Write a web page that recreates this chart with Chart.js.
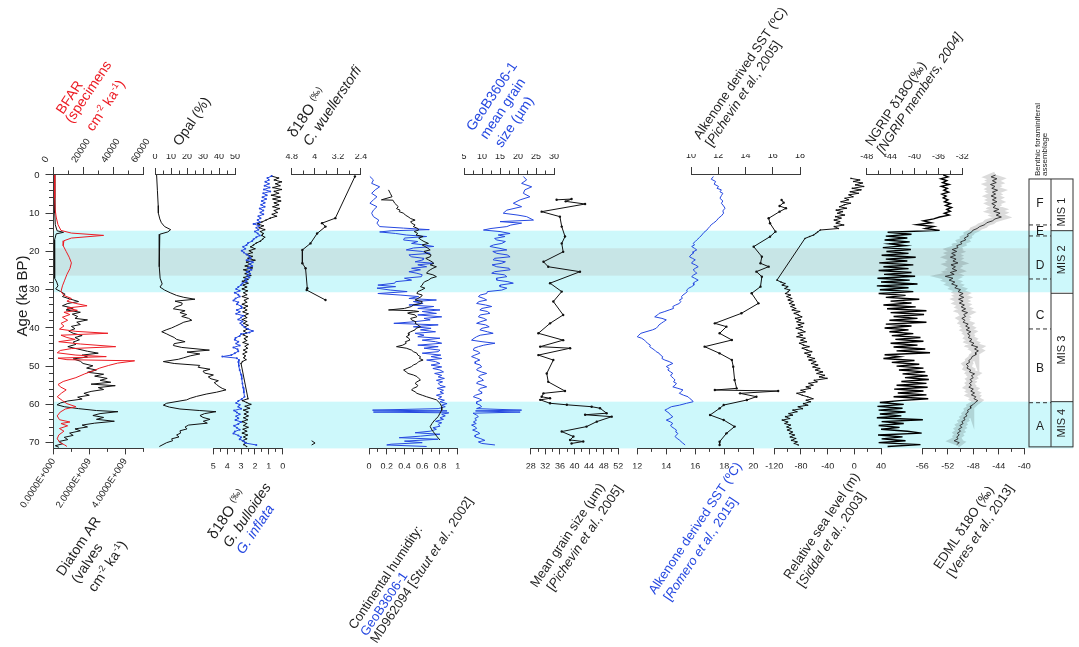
<!DOCTYPE html>
<html>
<head>
<meta charset="utf-8">
<script src="https://cdn.jsdelivr.net/npm/chart.js@4.4.1/dist/chart.umd.min.js"></script>
<style>
  html, body { margin: 0; padding: 0; background: #fff; }
  #stage { position: relative; width: 1079px; height: 647px; overflow: hidden; }
  #stage canvas { position: absolute; left: 0; top: 0; }
</style>
</head>
<body>
<div id="stage"></div>
<script>
// ---- data: [age ka BP, value] ----
const bfar = [[0,800],[3,700],[6,900],[9,1100],[11,1800],[13,3000],[14.5,5000],[15.2,12000],[15.8,33600],[16.5,12000],[17.2,7000],[18.5,6500],[20,8500],[21.5,10500],[23,12000],[24.5,11000],[26,9000],[27.5,7500],[29,6000],[30.5,5000],[31.5,7000],[32.3,12000],[33,9000],[33.6,15000],[34.2,22500],[34.8,9000],[35.4,16000],[35.9,7000],[36.5,11000],[37.2,6000],[38,9500],[38.8,5000],[39.5,7000],[40.3,4000],[40.9,15000],[41.4,36500],[41.9,5000],[42.5,9000],[43,14500],[43.6,3500],[44.2,18000],[44.9,41700],[45.4,12000],[45.9,4500],[46.5,2500],[47.1,15000],[47.5,35400],[47.9,3000],[48.3,9000],[48.6,54400],[49.2,43000],[49.8,37000],[50.5,31000],[51.3,26000],[52,21000],[53,15000],[54,6500],[54.8,3000],[55.5,5000],[56.2,8500],[57,5500],[58,2500],[59,6000],[59.8,9000],[60.6,15000],[61.2,8000],[62,4500],[63,2500],[64,4000],[64.6,11000],[65,5000],[65.6,9500],[66.3,4000],[67,7000],[68,3500],[69,2500],[70,4500],[70.6,7500],[71,9000]];
const diatomAR = [[0,6e7],[5,6e7],[10,8e7],[13,1e8],[14.6,2e8],[15,5.6e8],[15.4,1.5e8],[17,6e7],[20,5e7],[24,6e7],[27,8e7],[28,1.8e8],[29,2.5e8],[29.8,1.2e8],[30.5,4e8],[31.2,6.5e8],[31.8,5e8],[32.4,9e8],[33.1,1.4e9],[33.6,8e8],[34.2,5e8],[34.8,1.1e9],[35.3,7e8],[35.9,1.5e9],[36.4,1.05e9],[37,1.35e9],[37.5,1.2e9],[37.9,1.9e9],[38.5,1.3e9],[39.1,1.5e9],[39.6,1.0e9],[40.2,1.2e9],[40.8,8.5e8],[41.4,1.1e9],[42,1.6e9],[42.5,1.2e9],[43.1,1.45e9],[43.7,1.1e9],[44.3,1.25e9],[44.9,8e8],[45.5,1.35e9],[46.1,1.9e9],[46.6,2.5e9],[47.1,1.6e9],[47.6,1.9e9],[48.1,1.1e9],[48.7,1.5e9],[49.3,1.65e9],[49.9,2.2e9],[50.5,1.85e9],[51,2.4e9],[51.6,1.9e9],[52.1,2.8e9],[52.6,2.3e9],[53.2,3.0e9],[53.7,2.6e9],[54.2,3.2e9],[54.7,2.1e9],[55.1,3.45e9],[55.6,2.5e9],[56.1,2.8e9],[56.6,2.1e9],[57.1,1.7e9],[57.6,2.0e9],[58.1,1.35e9],[58.6,1.6e9],[59.1,8e8],[59.6,4e8],[60.1,2e8],[60.6,6e8],[61.1,1.4e9],[61.6,2.4e9],[61.9,3.6e9],[62.4,2.6e9],[62.9,2.2e9],[63.4,2.8e9],[63.9,2.4e9],[64.4,3.4e9],[64.9,2.3e9],[65.4,1.6e9],[65.9,1.9e9],[66.4,1.2e9],[66.9,1.5e9],[67.5,9e8],[68.1,1.1e9],[68.6,6e8],[69.2,8e8],[69.7,3e8],[70.3,5e8],[70.8,1e8],[71.2,3e8]];
const diatomTickValues = [0, 2e9, 4e9];
const opal = [[0,1],[4,1.5],[8,2],[10,2.1],[11.5,3],[12.5,4],[13.5,6],[14.3,9.8],[14.9,8],[15.5,3],[17,2.7],[20,2.5],[24,2.8],[27,3.2],[28.5,4.5],[29.3,3.1],[30.1,6],[30.8,9.5],[31.5,13.5],[32,18],[32.5,25],[33,12.5],[33.5,17],[34,16.7],[34.5,13],[35,11.5],[35.5,18.8],[36,15.6],[36.5,19.8],[37,16.7],[37.5,21],[38,23],[38.5,18],[39,15.6],[39.5,13],[40,10.4],[40.5,7],[41,4.2],[41.5,7],[42,9.4],[42.5,12],[43,13.5],[43.6,18.8],[44.1,12],[44.6,11.5],[45.1,16.7],[45.8,34],[46.3,20],[46.8,28],[47.3,22],[47.8,18],[48.2,14.6],[48.8,5.2],[49.3,12],[49.8,28],[50.3,27],[50.8,34.4],[51.3,30],[51.8,31],[52.3,36.5],[52.8,33.3],[53.3,35],[53.8,39.6],[54.3,37],[54.8,38.5],[55.3,40],[55.8,42],[56.2,44.4],[56.8,38.5],[57.3,32],[57.9,26],[58.4,22],[58.8,19.8],[59.7,7.3],[60.2,5.2],[60.7,9],[61.2,15.6],[61.6,28],[61.9,38.1],[62.4,31],[62.9,28.1],[63.4,30],[63.9,34.4],[64.4,30.2],[64.9,32.7],[65.4,21],[65.9,18.8],[66.4,20],[66.9,15.6],[67.5,16],[68,13.5],[68.5,15],[69,10.4],[69.5,11],[70,7.3],[70.5,5],[71,2.7]];
const d18oBulloides = [[0.3,0.8],[0.8,0.3],[1.3,0.6],[1.8,0.1],[2.3,0.5],[2.8,0.2],[3.3,0.7],[3.8,0.1],[4.3,0.6],[4.8,0.3],[5.3,0.8],[5.8,0.2],[6.3,0.7],[6.8,0.15],[7.3,0.6],[7.8,0.3],[8.3,0.7],[8.8,0.25],[9.3,0.6],[9.8,0.4],[10.3,0.75],[10.8,0.45],[11.3,0.9],[11.8,1.2],[12.3,1.5],[12.8,1.8],[13.3,1.4],[13.8,1.7],[14.3,1.3],[14.8,1.6],[15.3,1.4],[15.8,1.5],[16.3,1.3],[16.8,1.45],[17.3,1.6],[17.8,1.9],[18.3,2.1],[18.8,2.3],[19.3,2.0],[19.8,2.4],[20.3,2.2],[20.8,2.6],[21.3,2.2],[21.8,2.5],[22.3,2.0],[22.8,2.6],[23.3,2.3],[23.8,2.7],[24.3,2.2],[24.8,2.8],[25.3,2.4],[25.8,2.7],[26.3,2.3],[26.8,2.8],[27.3,2.5],[27.8,2.9],[28.3,2.5],[28.8,2.85],[29.3,2.6],[29.8,2.9],[30.3,2.55],[30.8,2.8],[31.3,2.6],[31.8,2.9],[32.3,2.5],[32.8,2.75],[33.3,2.6],[33.8,2.9],[34.3,2.55],[34.8,2.8],[35.3,2.6],[35.8,2.85],[36.3,2.5],[36.8,2.75],[37.3,2.6],[37.8,2.9],[38.3,2.6],[38.8,2.8],[39.3,2.5],[39.8,2.75],[40.3,2.55],[40.8,2.8],[41.3,2.6],[41.8,2.85],[42.3,2.55],[42.8,2.75],[43.3,2.6],[43.8,2.85],[44.3,2.5],[44.8,2.7],[45.3,2.55],[45.8,2.8],[46.3,2.6],[46.8,2.85],[47.3,2.7],[47.8,2.8],[48.3,2.65],[48.8,2.9],[49.3,3.0],[58.5,2.5],[59,2.9],[59.5,2.6],[60,2.3],[60.5,2.7],[61,2.4],[61.5,2.8],[62,2.5],[62.5,2.75],[63,2.5],[63.5,2.8],[64,2.55],[64.5,2.9],[65,2.6],[65.5,2.8],[66,2.5],[66.5,2.85],[67,2.6],[67.5,2.9],[68,2.55],[68.5,2.8],[69,2.6],[69.5,2.9],[70,2.65],[70.5,2.8],[71,2.6]];
const d18oInflata = [[0.3,0.8],[0.8,1.1],[1.3,1.0],[1.8,1.25],[2.3,1.0],[2.8,1.3],[3.3,0.95],[3.8,1.35],[4.3,0.9],[4.8,1.4],[5.3,1.15],[5.8,1.45],[6.3,1.2],[6.8,1.5],[7.3,1.3],[7.8,1.55],[8.3,1.3],[8.8,1.65],[9.3,1.4],[9.8,1.6],[10.3,1.4],[10.8,1.75],[11.3,1.6],[11.8,1.8],[12.3,1.65],[12.8,2.1],[13.3,1.7],[13.8,1.9],[14.3,1.75],[14.8,2.0],[15.3,1.8],[15.8,1.65],[16.3,1.9],[16.8,2.1],[17.3,2.2],[17.8,2.5],[18.3,2.6],[18.8,2.85],[19.3,2.7],[19.8,2.95],[20.3,2.8],[20.8,2.6],[21.3,2.4],[21.8,2.3],[22.3,2.6],[22.8,2.15],[23.3,2.4],[23.8,2.2],[24.3,2.5],[24.8,2.25],[25.3,2.6],[25.8,2.35],[26.3,2.55],[26.8,2.4],[27.3,2.7],[27.8,2.6],[28.3,2.9],[28.8,3.0],[29.3,3.2],[29.8,3.35],[30.3,3.1],[30.8,3.45],[31.3,3.2],[31.8,3.1],[32.3,3.4],[32.8,3.55],[33.3,3.2],[33.8,3.3],[34.3,3.0],[34.8,2.95],[35.3,3.3],[35.8,3.1],[36.3,3.35],[36.8,2.85],[37.3,3.0],[37.8,3.2],[38.3,2.9],[38.8,3.05],[39.3,2.9],[39.8,2.75],[40.3,2.5],[40.8,2.15],[41.2,2.4],[41.6,3.0],[42.1,3.1],[42.6,3.4],[43.1,3.45],[43.6,3.2],[44.1,3.35],[44.6,3.1],[45.1,3.55],[45.6,3.25],[46.1,3.2],[46.6,3.45],[47.1,3.7],[47.5,4.35],[47.9,3.3],[48.4,3.15],[48.9,3.2],[49.9,3.15],[51,3.1],[52.2,3.0],[53.3,2.95],[54.5,2.9],[55.6,2.85],[56.8,2.8],[58,2.75],[58.6,2.95],[59.1,3.2],[59.6,3.35],[60.1,3.1],[60.6,3.2],[61.1,3.0],[61.6,3.5],[62.1,3.3],[62.6,3.1],[63.1,3.35],[63.6,3.2],[64.1,3.4],[64.6,3.0],[65.1,3.2],[65.6,3.5],[66.1,3.3],[66.6,3.1],[67.1,3.45],[67.6,3.55],[68.1,3.2],[68.6,3.0],[69.1,3.1],[69.6,2.8],[70.1,2.7],[70.6,1.9]];
const d18oWuell = [[0.4,2.61],[11.3,3.29],[12.6,3.75],[13.5,3.63],[15.3,3.92],[17.9,4.15],[19.6,4.43],[23.1,4.43],[24.4,4.32],[29.6,4.26],[30.1,4.28],[32.7,3.63]];
const d18oWuellLate = [[69.5,4.11],[70.1,3.99],[70.6,4.11]];
const humidityGeoB = [[0.4,0.01],[1.3,0.05],[2.2,0.03],[3.1,0.12],[3.9,0.07],[4.8,0.03],[5.7,0.09],[6.5,0.05],[7.4,0.01],[8.3,0.09],[9.2,0.05],[10.0,0.03],[10.9,0.05],[11.8,0.11],[12.6,0.09],[13.5,0.12],[13.9,0.39],[14.3,0.68],[14.6,0.25],[14.9,0.12],[15.3,0.3],[15.7,0.42],[16.1,0.65],[16.5,0.4],[17.0,0.39],[17.4,0.55],[17.9,0.48],[18.3,0.62],[18.7,0.73],[19.1,0.5],[19.6,0.42],[20.0,0.6],[20.5,0.69],[20.9,0.45],[21.4,0.48],[21.8,0.62],[22.2,0.61],[22.7,0.52],[23.1,0.73],[23.5,0.55],[24.0,0.65],[24.4,0.48],[24.8,0.58],[25.3,0.45],[25.7,0.54],[26.1,0.6],[26.6,0.59],[27.0,0.4],[27.5,0.48],[27.9,0.3],[28.3,0.29],[28.8,0.1],[29.2,0.3],[29.6,0.09],[30.1,0.24],[30.5,0.43],[31.0,0.1],[31.4,0.35],[31.8,0.56],[32.3,0.45],[32.7,0.76],[33.1,0.5],[33.6,0.61],[34.0,0.45],[34.4,0.73],[34.9,0.55],[35.3,0.8],[35.7,0.6],[36.2,0.76],[36.6,0.55],[37.1,0.82],[37.5,0.62],[37.9,0.69],[38.4,0.5],[38.8,0.28],[39.2,0.78],[39.7,0.5],[40.1,0.7],[40.5,0.58],[41.0,0.75],[41.4,0.52],[41.9,0.62],[42.3,0.55],[42.7,0.8],[43.2,0.6],[43.6,0.75],[44.0,0.82],[44.5,0.55],[44.9,0.78],[45.3,0.62],[45.8,0.8],[46.2,0.78],[46.6,0.6],[47.1,0.81],[47.5,0.7],[48.0,0.82],[48.4,0.65],[48.8,0.75],[49.3,0.8],[49.7,0.7],[50.2,0.82],[50.6,0.72],[51.0,0.8],[51.5,0.84],[51.9,0.74],[52.4,0.82],[52.8,0.78],[53.2,0.85],[53.7,0.76],[54.1,0.83],[54.5,0.78],[55.0,0.8],[55.4,0.86],[55.8,0.77],[56.3,0.84],[56.7,0.8],[57.1,0.84],[57.6,0.76],[58.0,0.82],[58.5,0.78],[58.9,0.85],[59.3,0.8],[59.8,0.88],[60.2,0.82],[60.6,0.86],[61.1,0.78],[61.5,0.04],[61.7,0.88],[62.0,0.05],[62.2,0.9],[62.6,0.82],[63.0,0.86],[63.5,0.8],[63.9,0.84],[64.4,0.75],[64.8,0.82],[65.2,0.78],[65.7,0.8],[66.1,0.72],[66.5,0.76],[67.0,0.69],[67.4,0.52],[67.8,0.8],[68.3,0.58],[68.7,0.34],[69.1,0.78],[69.6,0.4],[70.0,0.6],[70.4,0.25],[70.6,0.2],[71.0,0.65]];
const humidityMD = [[3.9,0.22],[4.8,0.24],[5.7,0.26],[6.5,0.14],[6.6,0.27],[7.4,0.29],[8.3,0.33],[8.8,0.31],[9.2,0.35],[9.6,0.34],[10.0,0.39],[10.5,0.41],[10.9,0.44],[11.4,0.47],[11.8,0.52],[12.2,0.47],[12.6,0.48],[13.1,0.52],[13.5,0.5],[14.0,0.55],[14.4,0.56],[14.8,0.51],[15.3,0.55],[15.7,0.53],[16.1,0.61],[16.5,0.56],[17.0,0.59],[17.4,0.62],[17.9,0.67],[18.3,0.6],[18.7,0.63],[19.1,0.66],[19.6,0.69],[20.0,0.62],[20.5,0.65],[20.9,0.7],[21.4,0.69],[21.8,0.64],[22.2,0.67],[22.7,0.71],[23.1,0.73],[23.5,0.69],[24.0,0.76],[24.4,0.72],[24.8,0.69],[25.3,0.66],[25.7,0.65],[26.1,0.72],[26.6,0.76],[27.0,0.7],[27.5,0.67],[27.9,0.63],[28.3,0.61],[28.8,0.6],[29.2,0.58],[29.6,0.63],[30.1,0.59],[30.5,0.55],[31.0,0.54],[31.4,0.6],[31.8,0.59],[32.3,0.55],[32.7,0.52],[33.1,0.6],[33.6,0.59],[34.0,0.5],[34.4,0.48],[34.9,0.4],[35.3,0.22],[35.5,0.5],[35.7,0.56],[36.0,0.45],[36.2,0.44],[36.6,0.52],[37.1,0.54],[37.5,0.47],[37.9,0.48],[38.4,0.53],[38.8,0.52],[39.2,0.55],[39.7,0.58],[40.1,0.53],[40.5,0.52],[41.0,0.47],[41.4,0.44],[41.9,0.45],[42.3,0.42],[42.7,0.45],[43.2,0.46],[43.6,0.41],[44.0,0.42],[44.5,0.38],[44.9,0.31],[45.3,0.42],[45.8,0.48],[46.2,0.5],[46.6,0.54],[47.1,0.55],[47.5,0.58],[48.0,0.57],[48.4,0.61],[48.8,0.56],[49.3,0.54],[49.7,0.5],[50.1,0.48],[50.6,0.43],[51.0,0.39],[51.5,0.42],[51.9,0.44],[52.3,0.5],[52.7,0.54],[53.2,0.56],[53.6,0.58],[54.1,0.54],[54.5,0.52],[55.0,0.55],[55.4,0.54],[55.8,0.5],[56.2,0.48],[56.7,0.52],[57.1,0.54],[57.6,0.6],[58.0,0.65],[58.8,0.76],[59.7,0.8],[60.6,0.82],[61.5,0.82],[62.3,0.8],[63.2,0.78],[64.1,0.74],[65.0,0.71],[65.8,0.69],[66.7,0.71],[67.6,0.74],[68.5,0.77],[69.3,0.8]];
const grainGeoB = [[0.4,21.5],[1.3,22.4],[2.2,21.0],[3.1,23.8],[3.9,21.9],[4.8,21.5],[5.7,23.3],[6.5,20.6],[7.4,18.7],[8.3,21.0],[9.2,16.9],[10.0,15.9],[10.5,20],[10.9,22.4],[11.8,24.3],[12.2,15.0],[12.6,21.0],[13.1,18],[13.5,16.9],[14.0,12.5],[14.4,10.4],[14.8,15.0],[15.3,17.8],[15.7,14.5],[16.1,16.4],[16.6,13.5],[17.0,14.1],[17.4,16.5],[17.9,15.5],[18.3,13.2],[18.7,12.2],[19.2,15],[19.6,16.9],[20.0,13],[20.5,14.1],[20.9,17],[21.4,17.8],[21.8,13.5],[22.2,13.1],[22.7,16.5],[23.1,15.5],[23.5,12.8],[24.0,14.1],[24.4,17.5],[24.8,17.8],[25.3,13.5],[25.7,12.7],[26.1,16.2],[26.6,16.9],[27.0,14],[27.5,14.1],[27.9,17.2],[28.3,18.7],[28.8,15],[29.2,15.0],[29.6,16.9],[30.1,15.5],[30.5,11.5],[31.0,11.3],[31.4,9.5],[31.8,9.0],[32.3,10.5],[32.7,11.3],[33.1,9.2],[33.6,8.5],[34.0,11],[34.4,12.7],[34.9,10],[35.3,9.4],[35.7,11.5],[36.2,12.2],[36.6,9.5],[37.1,9.0],[37.5,10.5],[37.9,11.3],[38.4,9.5],[38.8,8.5],[39.2,11],[39.7,12.0],[40.1,10],[40.5,9.4],[41.0,11.5],[41.4,13.1],[41.9,9.5],[42.3,8.5],[42.7,7.8],[43.2,7.1],[43.6,10],[44.0,13.6],[44.5,10.5],[44.9,9.0],[45.3,7.8],[45.8,7.6],[46.2,9],[46.6,9.4],[47.1,8],[47.5,7.1],[48.0,8.5],[48.4,9.4],[48.8,8.2],[49.3,8.1],[49.7,9.5],[50.2,9.9],[50.6,8.8],[51.0,8.5],[51.5,9.8],[51.9,11.3],[52.4,9.5],[52.8,9.0],[53.2,9.8],[53.7,10.4],[54.1,8.8],[54.5,8.5],[55.0,10.2],[55.4,11.3],[55.8,9.5],[56.3,9.0],[56.7,9.8],[57.1,9.9],[57.6,8.2],[58.0,7.6],[58.5,9.2],[58.9,9.9],[59.3,8.6],[59.8,8.5],[60.2,9.5],[60.6,9.9],[61.1,8.5],[61.5,21.0],[61.7,8.2],[62.0,20.6],[62.3,7.5],[62.8,8.5],[63.2,9.0],[63.7,8.0],[64.1,8.5],[64.6,7.6],[65.0,8.4],[65.4,7.1],[65.9,8.2],[66.3,8.5],[66.7,7.4],[67.2,8.8],[67.6,9.4],[68.0,8.2],[68.5,8.1],[68.9,9.5],[69.4,10.8],[69.8,9.0],[70.2,9.9],[70.6,13.6]];
const grainPichevin = [[6.5,35.1],[6.3,39.2],[6.9,37.6],[7.6,42.9],[9.6,31.0],[10.9,36.0],[13.5,36.5],[16.1,37.4],[17.9,36.5],[20.1,36.9],[22.7,31.5],[24.0,32.8],[25.3,41.5],[28.3,33.3],[30.5,36.5],[33.1,34.2],[36.6,36.9],[38.8,33.3],[41.4,30.1],[43.2,36.9],[44.9,30.6],[45.3,38.8],[47.1,30.1],[48.4,34.2],[51.9,32.4],[54.1,32.8],[56.5,37.4],[57.1,31.5],[58.0,31.0],[58.4,33.3],[58.8,30.6],[59.7,33.3],[60.1,37.9],[60.6,44.7],[61.0,47.0],[62.3,48.8],[62.7,42.9],[63.2,50.2],[64.5,46.1],[65.8,43.3],[67.1,36.5],[68.4,39.7],[69.3,38.8],[69.7,42.4],[70.2,39.2]];
const sstRomero = [[0.4,17.25],[1.1,17.1],[1.7,17.4],[2.4,17.3],[3.0,17.6],[3.5,17.5],[3.9,17.8],[4.4,17.7],[4.8,17.9],[5.4,17.8],[6.1,17.7],[6.8,17.9],[7.4,17.8],[8.1,17.95],[8.7,18.05],[9.4,17.9],[10.0,17.95],[10.7,17.8],[11.3,17.6],[12.0,17.45],[12.6,17.25],[13.0,17.1],[13.5,17.0],[13.9,16.9],[14.4,16.8],[15.0,16.6],[15.7,16.45],[16.3,16.3],[17.0,16.1],[17.4,16.0],[17.9,15.85],[18.3,15.95],[18.7,15.75],[19.2,15.95],[19.6,16.1],[20.0,15.9],[20.5,15.85],[20.9,15.7],[21.4,15.6],[21.8,15.8],[22.2,16.0],[22.7,15.8],[23.1,15.75],[23.5,16.0],[24.0,16.2],[24.4,16.0],[24.8,15.85],[25.3,16.0],[25.7,16.1],[26.1,15.9],[26.6,15.75],[27.0,15.95],[27.5,16.2],[27.9,16.0],[28.3,15.85],[28.8,15.9],[29.2,15.75],[29.6,15.55],[30.1,15.4],[30.5,15.45],[31.0,15.3],[31.4,15.15],[31.8,15.05],[32.3,15.1],[32.7,14.9],[33.1,15.0],[33.6,14.9],[34.0,14.65],[34.4,14.45],[34.9,14.5],[35.3,14.2],[35.7,13.9],[36.2,13.5],[36.6,13.4],[37.1,13.2],[37.5,13.7],[37.9,14.0],[38.4,13.8],[38.8,13.65],[39.2,13.5],[39.7,13.4],[40.1,13.3],[40.5,13.05],[41.0,12.6],[41.4,12.25],[41.9,12.1],[42.3,12.0],[42.7,12.3],[43.2,12.5],[43.6,12.6],[44.0,12.7],[44.5,12.9],[44.9,12.85],[45.3,13.0],[45.8,13.2],[46.2,13.3],[46.6,13.5],[47.1,13.6],[47.5,13.75],[48.0,13.7],[48.4,13.9],[48.8,14.2],[49.3,14.45],[49.7,14.2],[50.1,14.0],[50.6,14.2],[51.0,14.1],[51.5,14.3],[51.9,14.45],[52.3,14.3],[52.7,14.35],[53.2,14.5],[53.6,14.6],[54.1,14.5],[54.5,14.7],[55.0,14.6],[55.4,14.45],[55.8,14.8],[56.2,15.15],[56.7,15.0],[57.1,14.9],[57.6,15.2],[58.0,15.5],[58.4,15.6],[58.8,15.75],[59.3,15.85],[59.7,15.4],[60.2,14.9],[60.6,14.35],[61.1,14.1],[61.5,13.9],[61.9,14.05],[62.3,14.2],[62.8,14.3],[63.2,14.45],[63.7,14.25],[64.1,14.0],[64.6,14.3],[65.0,14.45],[65.4,14.3],[65.8,14.35],[66.3,14.55],[66.7,14.7],[67.2,14.65],[67.6,14.8],[68.0,14.7],[68.4,14.6],[68.9,14.75],[69.3,14.9],[70.0,15.1],[70.6,15.3]];
const sstPichevin = [[6.54,16.65],[7.24,16.8],[8.11,16.5],[8.72,16.97],[9.59,16.5],[11.33,15.7],[12.64,15.8],[14.82,16.2],[16.13,15.8],[18.74,14.6],[21.36,15.2],[23.1,15.1],[23.98,15.7],[25.28,14.8],[26.59,15.2],[29.21,15.1],[30.95,14.45],[33.57,14.95],[36.18,13.7],[38.8,11.75],[39.67,12.6],[41.41,12.1],[43.16,13.0],[44.9,11.0],[46.64,12.1],[48.39,13.0],[50.13,13.1],[53.6,13.2],[55.8,13.35],[56.23,11.75],[56.5,16.4],[57.1,13.6],[57.98,14.8],[58.85,14.1],[60.16,12.4],[61.03,12.1],[62.77,11.4],[64.08,12.4],[65.8,13.2],[67.57,12.6],[69.75,12.1],[70.6,12.1]];
const seaLevel = [[0.9,-5],[1.3,8],[1.7,-1],[2.1,12],[2.6,2],[3.0,14],[3.5,-3],[3.9,10],[4.4,-6],[4.8,6],[5.2,-8],[5.7,-2],[6.1,-14],[6.5,-9],[7.0,-20],[7.4,-6],[7.8,-15],[8.3,-22],[8.7,-12],[9.2,-27],[9.6,-18],[10.0,-25],[10.5,-15],[10.9,-28],[11.3,-20],[11.8,-30],[12.2,-22],[12.6,-27],[13.1,-16],[13.5,-30],[14.0,-24],[14.4,-51],[14.9,-55],[15.3,-58],[15.7,-61],[16.1,-67],[16.6,-74],[27.5,-116],[28.0,-110],[28.4,-104],[28.8,-108],[29.2,-100],[29.7,-104],[30.1,-97],[30.5,-99],[31.0,-103],[31.4,-96],[31.8,-101],[32.3,-94],[32.7,-99],[33.1,-92],[33.6,-97],[34.0,-90],[34.4,-95],[34.9,-88],[35.3,-93],[35.7,-82],[36.2,-90],[36.6,-84],[37.1,-79],[37.5,-88],[37.9,-81],[38.4,-86],[38.8,-76],[39.2,-84],[39.7,-78],[40.1,-87],[40.5,-80],[41.0,-74],[41.4,-84],[41.9,-78],[42.3,-86],[42.7,-74],[43.2,-80],[43.6,-72],[44.0,-82],[44.5,-76],[44.9,-68],[45.3,-78],[45.8,-71],[46.2,-64],[46.6,-74],[47.1,-66],[47.5,-70],[48.0,-60],[48.4,-68],[48.8,-58],[49.3,-64],[49.7,-55],[50.2,-62],[50.6,-52],[51.0,-58],[51.5,-48],[51.9,-56],[52.4,-45],[52.8,-52],[53.2,-41],[53.7,-60],[54.1,-56],[54.5,-68],[55.0,-62],[55.4,-72],[55.8,-66],[56.3,-80],[56.7,-74],[57.1,-86],[57.6,-78],[58.0,-70],[58.5,-62],[58.9,-72],[59.3,-66],[59.8,-76],[60.2,-70],[60.6,-84],[61.1,-78],[61.5,-92],[61.9,-86],[62.4,-98],[62.8,-93],[63.2,-103],[63.7,-97],[64.1,-108],[64.6,-100],[65.0,-104],[65.4,-96],[65.9,-101],[66.3,-95],[66.7,-100],[67.2,-93],[67.6,-97],[68.0,-90],[68.5,-96],[68.9,-88],[69.4,-94],[69.8,-86],[70.2,-90],[70.6,-84]];
const ngrip = [[0,-35.2],[0.5,-34.4],[1,-35.6],[1.5,-34.6],[2,-35.3],[2.5,-34.2],[3,-35.5],[3.5,-34.5],[4,-35.1],[4.5,-34.3],[5,-35.4],[5.5,-34.7],[6,-35.2],[6.5,-34.4],[7,-35.0],[7.5,-34.0],[8,-34.8],[8.5,-33.8],[9,-34.6],[9.5,-34.0],[10,-35.0],[10.5,-34.2],[11,-35.8],[11.5,-36.8],[12,-38.5],[12.5,-37.2],[13,-39.6],[13.5,-36.8],[14,-38.2],[14.5,-35.8],[15,-44.5],[15.5,-40.5],[16,-44.8],[16.5,-41.2],[17,-45.0],[17.5,-40.8],[18,-44.2],[18.5,-41.5],[19,-45.3],[19.5,-40.6],[20,-44.7],[20.5,-41.0],[21,-45.5],[21.5,-39.8],[22,-44.8],[22.5,-41.2],[23,-45.9],[23.5,-40.2],[24,-45.2],[24.5,-41.0],[25,-46.0],[25.5,-40.5],[26,-45.1],[26.5,-39.9],[27,-46.2],[27.5,-40.8],[28,-45.6],[28.5,-39.5],[29,-46.3],[29.5,-41.0],[30,-45.8],[30.5,-40.2],[31,-46.0],[31.5,-41.5],[32,-44.8],[32.5,-39.2],[33,-44.0],[33.5,-40.5],[34,-45.2],[34.5,-39.8],[35,-44.6],[35.5,-38.0],[36,-44.0],[36.5,-38.4],[37,-43.5],[37.5,-39.5],[38,-44.2],[38.5,-38.0],[39,-44.8],[39.5,-40.5],[40,-45.0],[40.5,-41.0],[41,-44.2],[41.5,-40.2],[42,-43.8],[42.5,-39.0],[43,-43.2],[43.5,-38.5],[44,-44.0],[44.5,-39.5],[45,-43.5],[45.5,-38.2],[46,-43.0],[46.5,-37.4],[47,-45.0],[47.5,-42.5],[48,-45.2],[48.5,-40.0],[49,-43.8],[49.5,-39.2],[50,-43.0],[50.5,-38.5],[51,-42.6],[51.5,-38.2],[52,-42.0],[52.5,-37.8],[53,-41.6],[53.5,-37.6],[54,-42.2],[54.5,-38.0],[55,-43.0],[55.5,-37.8],[56,-43.4],[56.5,-38.5],[57,-42.8],[57.5,-38.0],[58,-43.5],[58.5,-37.7],[59,-42.5],[59.5,-45.8],[60,-41.8],[60.5,-46.2],[61,-42.0],[61.5,-46.0],[62,-41.5],[62.5,-45.8],[63,-42.2],[63.5,-46.3],[64,-38.6],[64.5,-45.5],[65,-41.8],[65.5,-46.0],[66,-42.5],[66.5,-45.6],[67,-41.2],[67.5,-38.8],[68,-46.1],[68.5,-42.0],[69,-45.5],[69.5,-41.5],[70,-46.0],[70.5,-39.0],[71,-44.5]];
const edml = [[0,-44.5],[0.5,-45.2],[1,-44.3],[1.5,-45.0],[2,-44.4],[2.5,-45.3],[3,-44.6],[3.5,-45.1],[4,-44.2],[4.5,-45.0],[5,-44.5],[5.5,-45.2],[6,-44.4],[6.5,-45.0],[7,-44.3],[7.5,-45.1],[8,-44.5],[8.5,-44.9],[9,-44.0],[9.5,-44.8],[10,-43.8],[10.5,-44.4],[11,-43.6],[11.5,-44.6],[12,-45.0],[12.5,-45.9],[13,-46.2],[13.5,-47.0],[14,-47.4],[14.5,-48.1],[15,-48.3],[15.5,-48.9],[16,-48.8],[16.5,-49.4],[17,-49.2],[17.5,-50.0],[18,-49.8],[18.5,-50.6],[19,-50.4],[19.5,-51.3],[20,-50.6],[20.5,-51.4],[21,-50.8],[21.5,-51.6],[22,-50.7],[22.5,-51.2],[23,-50.4],[23.5,-51.5],[24,-50.8],[24.5,-51.3],[25,-50.6],[25.5,-51.6],[26,-51.0],[26.5,-52.4],[27,-51.2],[27.5,-51.8],[28,-50.9],[28.5,-51.4],[29,-50.5],[29.5,-50.9],[30,-50.0],[30.5,-50.4],[31,-49.6],[31.5,-50.2],[32,-49.5],[32.5,-50.3],[33,-49.6],[33.5,-50.2],[34,-49.4],[34.5,-49.9],[35,-49.2],[35.5,-49.8],[36,-48.9],[36.5,-49.5],[37,-49.2],[37.5,-49.8],[38,-49.3],[38.5,-49.6],[39,-48.8],[39.5,-49.2],[40,-48.6],[40.5,-49.1],[41,-48.4],[41.5,-48.9],[42,-48.5],[42.5,-48.8],[43,-48.2],[43.5,-48.6],[44,-47.9],[44.5,-48.3],[45,-47.3],[45.5,-47.8],[46,-47.2],[46.5,-47.7],[47,-47.6],[47.5,-48.2],[48,-48.3],[48.5,-48.7],[49,-48.6],[49.5,-49.1],[50,-48.8],[50.5,-49.0],[51,-48.4],[51.5,-48.6],[52,-47.8],[52.5,-48.3],[53,-48.0],[53.5,-48.5],[54,-48.2],[54.5,-48.6],[55,-48.3],[55.5,-48.7],[56,-48.0],[56.5,-48.4],[57,-47.8],[57.5,-48.3],[58,-47.6],[58.5,-47.9],[59,-47.3],[59.5,-47.7],[60,-48.0],[60.5,-48.5],[61,-48.4],[61.5,-48.9],[62,-48.8],[62.5,-49.2],[63,-49.0],[63.5,-49.5],[64,-49.3],[64.5,-49.8],[65,-49.6],[65.5,-50.1],[66,-49.8],[66.5,-50.3],[67,-50.0],[67.5,-50.5],[68,-50.2],[68.5,-50.6],[69,-50.4],[69.5,-51.0],[70,-50.2],[70.5,-50.6]];

// shaded intervals (ka) and benthic foraminiferal assemblage / MIS zones
const bandsCyan = [[14.57, 30.67], [59.28, 71.5]];
const bandsGray = [[19.17, 26.33]];
const boxTopAge = 1.05, boxBottomAge = 71.1;
const assemblageBounds = [13.07, 15.95, 27.2, 40.27, 59.55];
const assemblageLabels = ['F', 'E', 'D', 'C', 'B', 'A'];
const assemblageLabelAges = [7.6, 14.8, 23.8, 36.8, 50.7, 65.8];
const misBounds = [14.57, 30.94, 59.28];
const misLabels = ['MIS 1', 'MIS 2', 'MIS 3', 'MIS 4'];
const misLabelAges = [9.7, 22.2, 45.8, 64.9];

// ---- layout / style ----
const W = 1079, H = 647, TOP = 174, BOT = 448.4, AXH = 20, YW = 43;
const YMIN = -0.25, YMAX = 71.5;
const BOX_L = 1029, BOX_R = 1073;
const FONT = '"Liberation Sans", Arial, Helvetica, sans-serif';
const AXIS = '#3a3a3a', TXT = '#1e1e1e', RED = '#ec1c24', BLUE = '#2548e0', BLACK = '#111';
const CYAN = 'rgb(205,248,251)', GRAYBAND = 'rgb(199,229,230)';
Chart.defaults.font.family = FONT;

const SUP = { size: 9, dy: -5 };
const TITLES = [
  { x: 63, y: 115, c: RED, size: 14, t: 'BFAR' },
  { x: 72, y: 124, c: RED, size: 14, t: '(specimens' },
  { x: 93, y: 132, c: RED, size: 14, t: [['cm'], ['-2', SUP], [' ka'], ['-1', SUP], [')']] },
  { x: 180, y: 146.7, size: 14, t: 'Opal (%)' },
  { x: 295, y: 138.3, t: [['\u03B418O ', { size: 15 }], ['(\u2030)', { size: 9, dy: -5 }]] },
  { x: 310, y: 146.7, size: 14, italic: true, t: 'C. wuellerstorfi' },
  { x: 473.3, y: 131.7, c: BLUE, size: 14, t: 'GeoB3606-1' },
  { x: 486.7, y: 140, c: BLUE, size: 14, t: 'mean grain' },
  { x: 501.7, y: 148.3, c: BLUE, size: 14, t: 'size (\u00B5m)' },
  { x: 700, y: 140, t: 'Alkenone derived SST (\u00BAC)' },
  { x: 711.7, y: 147.5, t: [['['], ['Pichevin et al.', { italic: true }], [', 2005]']] },
  { x: 871.7, y: 146.7, t: 'NGRIP \u03B418O(\u2030)' },
  { x: 883, y: 154.5, italic: true, t: '[NGRIP members, 2004]' },
  { x: 63.3, y: 576.7, size: 14, t: 'Diatom AR' },
  { x: 78.3, y: 584, size: 14, t: '(valves' },
  { x: 95, y: 592.7, size: 14, t: [['cm'], ['-2', SUP], [' ka'], ['-1', SUP], [')']] },
  { x: 215, y: 540, t: [['\u03B418O ', { size: 15 }], ['(\u2030)', { size: 9, dy: -5 }]] },
  { x: 230, y: 548.3, size: 14, italic: true, t: 'G. bulloides' },
  { x: 243.3, y: 555, size: 14, italic: true, c: BLUE, t: 'G. inflata' },
  { x: 355, y: 630, t: 'Continental humidity:' },
  { x: 366.7, y: 636.7, c: BLUE, t: 'GeoB3606-1' },
  { x: 376.7, y: 644, t: [['MD962094 ['], ['Stuut et al.', { italic: true }], [', 2002]']] },
  { x: 536.7, y: 588.3, t: 'Mean grain size (\u00B5m)' },
  { x: 553.3, y: 591.7, t: [['['], ['Pichevin et al.', { italic: true }], [', 2005]']] },
  { x: 655, y: 595, c: BLUE, t: 'Alkenone derived SST (\u00BAC)' },
  { x: 670, y: 601.7, c: BLUE, t: [['['], ['Romero et al.', { italic: true }], [', 2015]']] },
  { x: 790, y: 580, t: 'Relative sea level (m)' },
  { x: 803.3, y: 588.3, t: [['['], ['Siddal et al.', { italic: true }], [', 2003]']] },
  { x: 940, y: 570, t: 'EDML \u03B418O (\u2030)' },
  { x: 953.3, y: 578.3, t: [['['], ['Veres et al.', { italic: true }], [', 2013]']] },
  { x: 27, y: 296, rot: 90, align: 'center', size: 15, t: 'Age (ka BP)' },
  { x: 1039.5, y: 176, rot: 90, size: 8, t: 'Benthic foraminiferal' },
  { x: 1046.5, y: 176, rot: 90, size: 8, t: 'assemblage' }
];

function font(size, italic) { return (italic ? 'italic ' : '') + size + 'px ' + FONT; }
function fmtNum(v) { return String(+Number(v).toFixed(3)); }
function fmtDiatom(v) { return v === 0 ? '0.0000E+000' : (v / 1e9).toFixed(4) + 'E+009'; }
function pts(arr) { return arr.map(p => ({ x: p[1], y: p[0] })); }

// one labelled axis (long ticks) plus an optional zero-height axis for the short ticks
function xAxis(id, pos, min, max, major, minor, o) {
  o = o || {};
  const rot = o.rot || 0;
  const h = o.h || AXH;
  const s = {};
  s[id] = {
    type: 'linear', axis: 'x', position: pos, min, max, reverse: !!o.reverse, weight: 2,
    afterFit(sc) { sc.height = h; sc.paddingLeft = 0; sc.paddingRight = 0; },
    border: { display: true, color: AXIS, width: 1 },
    grid: { display: true, drawOnChartArea: false, drawTicks: true, tickLength: o.tl || 6, color: AXIS, lineWidth: 1 },
    ticks: {
      stepSize: major, autoSkip: false, includeBounds: false, minRotation: rot, maxRotation: rot,
      padding: rot ? 2 : (pos === 'top' ? 6 : 7), color: TXT,
      font: { family: FONT, size: rot ? 9.5 : 9 }, callback: o.fmt || fmtNum
    }
  };
  if (o.tickValues) {
    s[id].afterBuildTicks = sc => { sc.ticks = o.tickValues.map(v => ({ value: v })); };
  }
  if (minor) {
    s[id + 'Minor'] = {
      type: 'linear', axis: 'x', position: pos, min, max, reverse: !!o.reverse, weight: 1,
      afterFit(sc) { sc.height = 0; sc.paddingLeft = 0; sc.paddingRight = 0; },
      border: { display: false },
      grid: { display: true, drawOnChartArea: false, drawTicks: true, tickLength: 3.5, color: AXIS, lineWidth: 1 },
      ticks: { display: false, stepSize: minor, autoSkip: false, includeBounds: false }
    };
  }
  return s;
}

const hiddenY = { type: 'linear', axis: 'y', display: false, min: YMIN, max: YMAX, reverse: true };
const ageAxis = {
  y: {
    type: 'linear', axis: 'y', position: 'left', min: YMIN, max: YMAX, reverse: true, weight: 2,
    afterFit(sc) { sc.width = YW; sc.paddingTop = 0; sc.paddingBottom = 0; },
    border: { display: true, color: AXIS, width: 1 },
    grid: { drawOnChartArea: false, drawTicks: true, tickLength: 8, color: AXIS },
    ticks: { stepSize: 10, autoSkip: false, includeBounds: false, padding: 6, color: TXT, font: { family: FONT, size: 9.5 }, callback: fmtNum }
  },
  yMinor: {
    type: 'linear', axis: 'y', position: 'left', min: YMIN, max: YMAX, reverse: true, weight: 1,
    afterFit(sc) { sc.width = 0; sc.paddingTop = 0; sc.paddingBottom = 0; },
    border: { display: false },
    grid: { drawOnChartArea: false, drawTicks: true, tickLength: 4.5, color: AXIS },
    ticks: { display: false, stepSize: 2, autoSkip: false, includeBounds: false }
  }
};

const stage = document.getElementById('stage');
function addChart(cfg) {
  const cv = document.createElement('canvas');
  cv.width = W; cv.height = H;
  stage.appendChild(cv);
  return new Chart(cv.getContext('2d'), cfg);
}
function baseOptions(padding, scales) {
  return {
    responsive: false, animation: false, devicePixelRatio: 1, events: [],
    layout: { padding, autoPadding: false },
    plugins: { legend: { display: false }, tooltip: { enabled: false } },
    scales
  };
}

function panel(p) {
  const scales = Object.assign({}, p.age ? ageAxis : { y: hiddenY }, ...p.axes);
  const list = Object.values(scales);
  const hasTop = list.some(s => s.position === 'top');
  const hasBot = list.some(s => s.position === 'bottom');
  const datasets = p.sets.map(d => ({
    data: pts(d.data), xAxisID: d.axis, yAxisID: 'y',
    borderColor: d.color, backgroundColor: d.color, borderWidth: d.width || 1,
    pointRadius: d.dots || 0, pointBorderWidth: 0, pointBackgroundColor: d.color,
    tension: 0, fill: false, clip: false
  }));
  return addChart({
    type: 'line',
    data: { datasets },
    options: baseOptions({
      left: p.left - (p.age ? YW : 0), right: W - p.right,
      top: hasTop ? TOP - (p.topH || AXH) : TOP, bottom: H - BOT - (hasBot ? (p.botH || AXH) : 0)
    }, scales)
  });
}

// background bands
const bandPlugin = {
  id: 'bands',
  beforeDatasetsDraw(chart) {
    const { ctx, chartArea: { left, right }, scales: { y } } = chart;
    ctx.save();
    ctx.fillStyle = CYAN;
    bandsCyan.forEach(([a, b]) => {
      const y0 = y.getPixelForValue(a), y1 = y.getPixelForValue(b);
      ctx.fillRect(left, y0, right - left, y1 - y0);
    });
    ctx.fillStyle = GRAYBAND;
    bandsGray.forEach(([a, b]) => {
      const y0 = y.getPixelForValue(a), y1 = y.getPixelForValue(b);
      ctx.fillRect(left, y0, BOX_L - left, y1 - y0);
    });
    ctx.restore();
  }
};
addChart({
  type: 'line', data: { datasets: [] },
  options: baseOptions({ left: 53.3, right: W - BOX_R, top: TOP, bottom: H - BOT },
    { x: { type: 'linear', display: false, min: 0, max: 1 }, y: hiddenY }),
  plugins: [bandPlugin]
});

// record panels
panel({ left: 53.5, right: 143, age: true, topH: 45, botH: 75,
  axes: [xAxis('bfar', 'top', 0, 60000, 20000, 10000, { rot: 57, tl: 7, h: 45 }),
         xAxis('diatom', 'bottom', 0, 5e9, 2e9, 1e9, { rot: 57, fmt: fmtDiatom, h: 75, tickValues: diatomTickValues })],
  sets: [{ data: bfar, axis: 'bfar', color: RED }, { data: diatomAR, axis: 'diatom', color: BLACK }] });
panel({ left: 155, right: 235, axes: [xAxis('opal', 'top', 0, 50, 10, 5)],
  sets: [{ data: opal, axis: 'opal', color: BLACK }] });
panel({ left: 213.3, right: 282.7, axes: [xAxis('d18p', 'bottom', 0, 5, 1, 0.5, { reverse: true })],
  sets: [{ data: d18oInflata, axis: 'd18p', color: BLUE, dots: 1 }, { data: d18oBulloides, axis: 'd18p', color: BLACK, dots: 0.8 }] });
panel({ left: 291.7, right: 361, axes: [xAxis('wuel', 'top', 2.4, 4.8, 0.8, 0.4, { reverse: true })],
  sets: [{ data: d18oWuell, axis: 'wuel', color: BLACK, dots: 1.2 }, { data: d18oWuellLate, axis: 'wuel', color: BLACK }] });
panel({ left: 369, right: 457.7, axes: [xAxis('hum', 'bottom', 0, 1, 0.2, 0.1)],
  sets: [{ data: humidityMD, axis: 'hum', color: BLACK }, { data: humidityGeoB, axis: 'hum', color: BLUE }] });
panel({ left: 464, right: 554, axes: [xAxis('grainB', 'top', 5, 30, 5, 2.5)],
  sets: [{ data: grainGeoB, axis: 'grainB', color: BLUE }] });
panel({ left: 530.7, right: 618.3, axes: [xAxis('grainP', 'bottom', 28, 52, 4, 2)],
  sets: [{ data: grainPichevin, axis: 'grainP', color: BLACK, dots: 1.2 }] });
panel({ left: 637.3, right: 753.3, axes: [xAxis('sstR', 'bottom', 12, 20, 2, 1)],
  sets: [{ data: sstRomero, axis: 'sstR', color: BLUE }] });
panel({ left: 691, right: 800, axes: [xAxis('sstP', 'top', 10, 18, 2, 0, { tl: 7 })],
  sets: [{ data: sstPichevin, axis: 'sstP', color: BLACK, dots: 1.2 }] });
panel({ left: 774.3, right: 881, axes: [xAxis('rsl', 'bottom', -120, 40, 40, 20)],
  sets: [{ data: seaLevel, axis: 'rsl', color: BLACK, dots: 0.8 }] });
panel({ left: 866.7, right: 962.3, axes: [xAxis('ngrip', 'top', -48, -32, 4, 2)],
  sets: [{ data: ngrip, axis: 'ngrip', color: '#000', width: 1.4 }] });
panel({ left: 922.3, right: 1024.3, axes: [xAxis('edml', 'bottom', -56, -40, 4, 2)],
  sets: [{ data: edml, axis: 'edml', color: 'rgba(30,30,30,0.85)' }, { data: edml, axis: 'edml', color: 'rgba(0,0,0,0.14)', width: 7 }] });

// benthic assemblage / MIS box + all rotated titles
const boxPlugin = {
  id: 'benthic',
  afterDatasetsDraw(chart) {
    const { ctx, scales: { x, y } } = chart;
    const L = x.getPixelForValue(0), M = x.getPixelForValue(1), R = x.getPixelForValue(2);
    const T = y.getPixelForValue(boxTopAge), B = y.getPixelForValue(boxBottomAge);
    const seg = (x0, y0, x1, y1) => { ctx.beginPath(); ctx.moveTo(x0, y0); ctx.lineTo(x1, y1); ctx.stroke(); };
    ctx.save();
    ctx.strokeStyle = '#333'; ctx.lineWidth = 1;
    ctx.strokeRect(L, T, R - L, B - T);
    seg(M, T, M, B);
    misBounds.forEach(a => seg(M, y.getPixelForValue(a), R, y.getPixelForValue(a)));
    ctx.setLineDash([4, 3]);
    assemblageBounds.forEach(a => seg(L, y.getPixelForValue(a), M, y.getPixelForValue(a)));
    ctx.setLineDash([]);
    ctx.fillStyle = TXT; ctx.textAlign = 'center'; ctx.textBaseline = 'middle';
    ctx.font = font(12, false);
    assemblageLabels.forEach((s, i) => ctx.fillText(s, x.getPixelForValue(0.5), y.getPixelForValue(assemblageLabelAges[i])));
    ctx.font = font(11, false);
    misLabels.forEach((s, i) => {
      ctx.save();
      ctx.translate(x.getPixelForValue(1.5), y.getPixelForValue(misLabelAges[i]));
      ctx.rotate(-Math.PI / 2);
      ctx.fillText(s, 0, 0);
      ctx.restore();
    });
    ctx.restore();
  }
};
const titlePlugin = {
  id: 'titles',
  afterDraw(chart) {
    const ctx = chart.ctx;
    TITLES.forEach(item => {
      const segs = typeof item.t === 'string' ? [[item.t, {}]] : item.t.map(s => [s[0], s[1] || {}]);
      const rot = (item.rot === undefined ? 56 : item.rot) * Math.PI / 180;
      ctx.save();
      ctx.translate(item.x, item.y);
      ctx.rotate(-rot);
      ctx.textAlign = 'left'; ctx.textBaseline = 'alphabetic';
      const fonts = segs.map(([, st]) => font(st.size || item.size || 13, st.italic !== undefined ? st.italic : item.italic));
      const widths = segs.map(([s], i) => { ctx.font = fonts[i]; return ctx.measureText(s).width; });
      let cx = item.align === 'center' ? -widths.reduce((a, b) => a + b, 0) / 2 : 0;
      segs.forEach(([s, st], i) => {
        ctx.font = fonts[i];
        ctx.fillStyle = st.color || item.c || TXT;
        ctx.fillText(s, cx, st.dy || 0);
        cx += widths[i];
      });
      ctx.restore();
    });
  }
};
addChart({
  type: 'line', data: { datasets: [] },
  options: baseOptions({ left: BOX_L, right: W - BOX_R, top: TOP, bottom: H - BOT },
    { x: { type: 'linear', display: false, min: 0, max: 2 }, y: hiddenY }),
  plugins: [boxPlugin, titlePlugin]
});
</script>
</body>
</html>
